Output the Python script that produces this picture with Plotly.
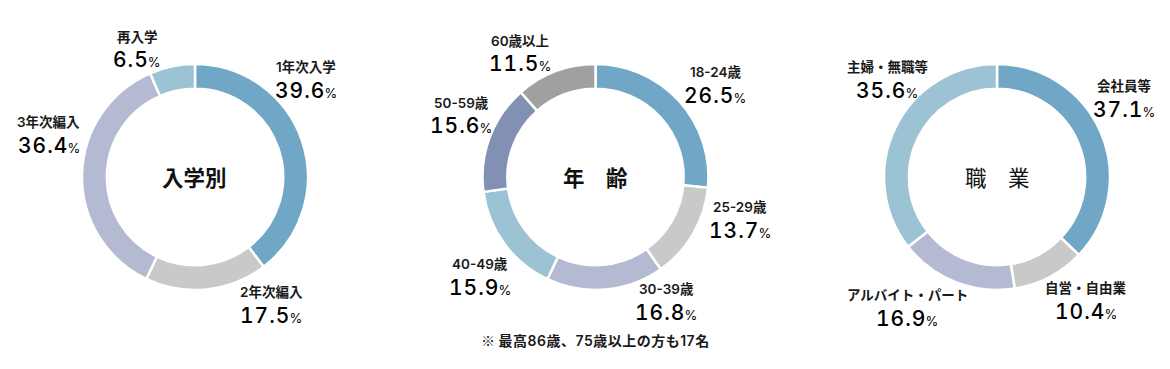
import plotly.graph_objects as go

W, H = 1170, 369

# ---- data ----
admit_labels = ["1年次入学", "2年次編入", "3年次編入", "再入学"]
admit_values = [39.6, 17.5, 36.4, 6.5]

age_labels = ["18-24歳", "25-29歳", "30-39歳", "40-49歳", "50-59歳", "60歳以上"]
age_values = [26.5, 13.7, 16.8, 15.9, 15.6, 11.5]

job_labels = ["会社員等", "自営・自由業", "アルバイト・パート", "主婦・無職等"]
job_values = [37.1, 10.4, 16.9, 35.6]

titles = ["入学別", "年　齢", "職　業"]
footnote_mark = "※"
footnote = "最高86歳、75歳以上の方も17名"

# ---- styles ----
admit_colors = ["#70a6c6", "#c9c9c9", "#b5bad3", "#9bc3d3"]
age_colors = ["#70a6c6", "#c9c9c9", "#b5bad3", "#9bc3d3", "#8290b4", "#a0a0a0"]
job_colors = ["#70a6c6", "#c9c9c9", "#b5bad3", "#9bc3d3"]

centers = [(195, 177), (595.5, 177), (997, 177)]
R = 113

# label block positions (pixel centre x, name-line y) for each slice
admit_pos = [(306, 67), (271, 292), (48.5, 122), (137, 37)]
age_pos = [(715, 72), (740, 207), (666, 289), (480, 264), (461, 103), (520, 41)]
job_pos = [(1124, 86), (1086, 288), (907, 295), (887, 67)]

JP = "Noto Sans CJK JP"
MIX = "Inter, Noto Sans CJK JP"
TXT = "#1a1a1a"
TAB = "font-variant-numeric:tabular-nums"
NUMSTYLE = TAB + ";letter-spacing:1px"

OFF = 8  # page body margin of the html page


def px(x):
    return (x - OFF) / W


def py(y):
    return 1 - (y - OFF) / H


def pct_text(val):
    s = f"{val:.1f}"
    return (f"<span style='{NUMSTYLE}'>{s[:-1]}</span>"
            f"<span style='{TAB}'>{s[-1]}</span>"
            f"<span style='font-size:13px;font-weight:400'>%</span>")


fig = go.Figure()
annotations = []

groups = [
    (admit_labels, admit_values, admit_colors, admit_pos),
    (age_labels, age_values, age_colors, age_pos),
    (job_labels, job_values, job_colors, job_pos),
]

for gi, (labels, values, colors, pos) in enumerate(groups):
    cx, cy = centers[gi]
    fig.add_trace(go.Pie(
        labels=labels,
        values=values,
        sort=False,
        direction="clockwise",
        rotation=0,
        hole=0.78,
        textinfo="none",
        hoverinfo="label+percent",
        marker=dict(colors=colors, line=dict(color="white", width=2.5)),
        domain=dict(x=[px(cx - R), px(cx + R)], y=[py(cy + R), py(cy - R)]),
        showlegend=False,
    ))
    for lab, val, (lx, ly) in zip(labels, values, pos):
        annotations.append(dict(
            x=px(lx), y=py(ly), xref="paper", yref="paper",
            text=lab, showarrow=False, xanchor="center", yanchor="middle",
            font=dict(family=MIX, size=13.5, color=TXT, weight=600),
        ))
        annotations.append(dict(
            x=px(lx), y=py(ly + 23), xref="paper", yref="paper",
            text=pct_text(val),
            showarrow=False, xanchor="center", yanchor="middle",
            font=dict(family="Inter", size=21, color="#000000", weight=500),
        ))
    annotations.append(dict(
        x=px(cx), y=py(cy - 1), xref="paper", yref="paper",
        text=titles[gi], showarrow=False, xanchor="center", yanchor="middle",
        font=dict(family=JP, size=21.5, color="#111111",
                  weight=400 if gi == 2 else 700),
    ))

annotations.append(dict(
    x=px(595), y=py(340), xref="paper", yref="paper",
    text=(f"<span style='font-family:Noto Sans CJK JP'>{footnote_mark}</span> "
          f"<span style='letter-spacing:0.5px'>{footnote}</span>"),
    showarrow=False, xanchor="center", yanchor="middle",
    font=dict(family=MIX, size=14, color=TXT, weight=600),
))

fig.update_layout(
    width=W, height=H,
    margin=dict(l=0, r=0, t=0, b=0),
    paper_bgcolor="white",
    plot_bgcolor="white",
    annotations=annotations,
    font=dict(family=JP),
)

fig.write_html("out.html")
